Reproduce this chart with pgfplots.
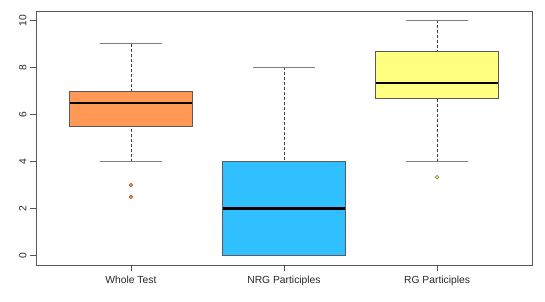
\documentclass[border=0pt]{standalone}
\usepackage{pgfplots}
\pgfplotsset{compat=1.18}
\usepgfplotslibrary{statistics}
\usetikzlibrary{calc}
\usepackage{fontspec}
\setmainfont{Liberation Sans}
\definecolor{c1}{HTML}{FF9955}
\definecolor{c2}{HTML}{30BFFF}
\definecolor{c3}{HTML}{FFFF80}
\definecolor{fr}{HTML}{555555}
\definecolor{bx}{HTML}{5A5A5A}
\definecolor{cap}{HTML}{808080}
\pgfplotsset{
  boxplot/draw/lower whisker/.code={
    \draw[densely dashed, draw=black!75, line width=0.7pt, fill=none] (boxplot box cs:\pgfplotsboxplotvalue{lower whisker},0.5) -- (boxplot box cs:\pgfplotsboxplotvalue{lower quartile},0.5);
    \draw[draw=cap, line width=1.1pt, solid, fill=none] (boxplot whisker cs:\pgfplotsboxplotvalue{lower whisker},0) -- (boxplot whisker cs:\pgfplotsboxplotvalue{lower whisker},1);
  },
  boxplot/draw/upper whisker/.code={
    \draw[densely dashed, draw=black!75, line width=0.7pt, fill=none] (boxplot box cs:\pgfplotsboxplotvalue{upper whisker},0.5) -- (boxplot box cs:\pgfplotsboxplotvalue{upper quartile},0.5);
    \draw[draw=cap, line width=1.1pt, solid, fill=none] (boxplot whisker cs:\pgfplotsboxplotvalue{upper whisker},0) -- (boxplot whisker cs:\pgfplotsboxplotvalue{upper whisker},1);
  },
}
\begin{document}
\begin{tikzpicture}
\begin{axis}[name=ax, at={(0,0)}, anchor=south west,
  scale only axis, width=496pt, height=254pt,
  xmin=0.38, xmax=3.62, ymin=-0.4, ymax=10.4,
  axis line style={fr, line width=0.8pt},
  xtick={1,2,3}, xticklabels={Whole Test, NRG Participles, RG Participles},
  ytick={0,2,...,10},
  tick pos=left, tick align=outside, major tick length=6pt,
  tick style={fr, line width=0.8pt},
  ticklabel style={font=\fontsize{10.3}{12}\selectfont, text=black!85},
  yticklabel style={rotate=90, anchor=south},
  xticklabel style={yshift=-2pt},
  /pgf/number format/assume math mode=true,
  boxplot/draw direction=y,
  boxplot/box extend=0.8,
  boxplot/whisker extend=0.4,
  boxplot/every median/.style={draw=black, line width=2.2pt},
  boxplot/every box/.style={draw=bx, line width=0.9pt},
]
\addplot[boxplot prepared={draw position=1, lower whisker=4, lower quartile=5.5, median=6.5, upper quartile=7, upper whisker=9}, fill=c1] coordinates {};
\addplot[boxplot prepared={draw position=2, lower whisker=0, lower quartile=0, median=2, upper quartile=4, upper whisker=8}, fill=c2] coordinates {};
\addplot[boxplot prepared={draw position=3, lower whisker=4, lower quartile=6.6667, median=7.3333, upper quartile=8.6667, upper whisker=10}, fill=c3] coordinates {};
\addplot[only marks, mark=*, mark size=1.8pt, mark options={fill=c1, draw=c1!55!black, line width=0.5pt}] coordinates {(1,3) (1,2.5)};
\addplot[only marks, mark=*, mark size=1.8pt, mark options={fill=c3, draw=c3!45!black, line width=0.5pt}] coordinates {(3,3.3333)};
\end{axis}
\path ($(ax.south west)+(-36pt,-37pt)$) rectangle ($(ax.north east)+(13pt,11pt)$);
\end{tikzpicture}
\end{document}
